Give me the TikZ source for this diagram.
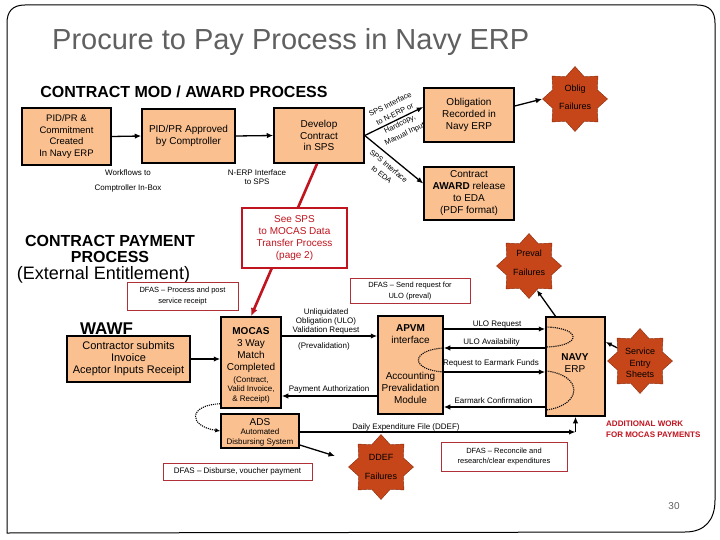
\documentclass[tikz,border=0pt]{standalone}
\usepackage{fontspec}
\setmainfont{Liberation Sans}
\usetikzlibrary{arrows.meta,shapes.geometric,calc}
\definecolor{boxfill}{HTML}{FAC090}
\definecolor{starfill}{HTML}{C6461A}
\definecolor{starline}{HTML}{8A2C0C}
\definecolor{redline}{HTML}{C0141E}
\definecolor{notered}{HTML}{B03038}
\definecolor{titlegray}{HTML}{606060}
\begin{document}
\begin{tikzpicture}[x=1pt,y=-1pt,
 sz/.style 2 args={minimum width=#1pt, minimum height=#2pt},
 box/.style={draw=black, line width=1.5pt, fill=boxfill, align=center, inner sep=0pt, font=\fontsize{10}{12}\selectfont},
 note/.style={draw=notered, line width=0.7pt, fill=white, align=center, inner sep=0pt, font=\fontsize{7.5}{10.5}\selectfont},
 starnode/.style={star, star points=8, star point ratio=1.35, minimum size=65pt, inner sep=0pt, fill=starfill, draw=starline, line width=0.4pt},
 startext/.style={align=center, inner sep=0pt, text=black},
 intext/.style={align=center, inner sep=0pt, text=black},
 arr/.style={line width=1.3pt, -{Latex[length=6.5pt,width=5.5pt]}},
 lbl/.style={align=center, inner sep=0pt, font=\fontsize{8}{9}\selectfont},
 dots/.style={line width=1.1pt, densely dotted},
]
\useasboundingbox (0,0) rectangle (720,540);
\fill[white] (0,0) rectangle (720,540);
% frame
\draw[line width=1pt] (7,533) -- (7,23) .. controls (7,12) and (12,5) .. (25,5) -- (697,5)
  .. controls (710,5) and (715,12) .. (715,23) -- (715,500)
  .. controls (715,520) and (705,532) .. (685,532) -- cycle;
% title
\node[anchor=base west, inner sep=0pt, text=titlegray, font=\fontsize{29}{34}\selectfont] (title) at (52,50) {Procure to Pay Process in Navy ERP};

% headings
\node[inner sep=0pt, font=\bfseries\fontsize{16}{18}\selectfont] (h1) at (184,92) {CONTRACT MOD / AWARD PROCESS};
\node[inner sep=0pt, align=center, font=\bfseries\fontsize{16}{16}\selectfont] (h2) at (110,249) {CONTRACT PAYMENT\\PROCESS};
\node[inner sep=0pt, font=\fontsize{18}{20}\selectfont] (h3) at (103.5,275) {(External Entitlement)};
\node[inner sep=0pt, font=\bfseries\fontsize{17}{20}\selectfont] (wawf) at (106.5,329) {WAWF};

% top row boxes
\node[box, sz={89}{57}, font=\fontsize{9.5}{11.5}\selectfont] (b1) at (66.5,136.5) {PID/PR \&\\Commitment\\Created\\In Navy ERP};
\node[box, sz={93}{54}] (b2) at (188.5,136) {PID/PR Approved\\by Comptroller};
\node[box, sz={90}{55}, font=\fontsize{10}{11.5}\selectfont] (b3) at (319,135.5) {Develop\\Contract\\in SPS};
\node[box, sz={90}{54}] (obl) at (469,115) {Obligation\\Recorded in\\Navy ERP};
\node[box, sz={90}{53}] (eda) at (469,193.5) {Contract\\\textbf{AWARD} release\\to EDA\\(PDF format)};

\draw[arr] (b1.east) -- (b2.west);
\draw[arr] (b2.east) -- (b3.west);
\draw[arr] (b3.east) -- ($(obl.west)+(0,-8)$) node[lbl, midway, sloped, xshift=4pt, font=\fontsize{7.5}{11}\selectfont] {SPS Interface\\to N-ERP or\\Hardcopy,\\Manual Input};
\draw[arr] (b3.east) -- ($(eda.west)+(0,-10)$) node[lbl, midway, sloped, below=5pt, font=\fontsize{7.5}{11}\selectfont] {SPS Interface\\to EDA};

\node[lbl] (wf1) at (128,173) {Workflows to};
\node[lbl] (wf2) at (128,188) {Comptroller In-Box};
\node[lbl] (ne) at (257,177.5) {N-ERP Interface\\to SPS};

% stars
\node[starnode] (oblig) at (575,99) {};
\node[startext, font=\fontsize{9}{18}\selectfont] (obligt) at ($(oblig)+(0,-2)$) {Oblig\\Failures};
\node[starnode] (preval) at (529,266) {};
\node[startext, font=\fontsize{9}{19}\selectfont] (prevalt) at ($(preval)+(0,-3.5)$) {Preval\\Failures};
\node[starnode] (ses) at (640,361) {};
\node[startext, font=\fontsize{9}{11.5}\selectfont] (sest) at ($(ses)+(0,2)$) {Service\\Entry\\Sheets};
\node[starnode] (ddef) at (381,467) {};
\node[startext, font=\fontsize{9}{19}\selectfont] (ddeft) at ($(ddef)+(0,-0.5)$) {DDEF\\Failures};

\draw[arr] ($(obl.east)+(0,-9)$) -- (oblig.west);

% payment boxes
\node[box, sz={123}{46}, font=\fontsize{11}{12}\selectfont] (wbox) at (128.5,359) {Contractor submits\\Invoice\\Aceptor Inputs Receipt};
\node[box, sz={60}{91}] (mocas) at (251,362.5) {};
\node[intext, font=\fontsize{10}{12}\selectfont] (mocast) at (251,350) {\textbf{MOCAS}\\3 Way\\Match\\Completed};
\node[intext, font=\fontsize{8}{9.5}\selectfont] (mocass) at (251,389.5) {(Contract,\\Valid Invoice,\\\& Receipt)};
\node[box, sz={78}{34}] (ads) at (260,431) {};
\node[intext, font=\fontsize{10}{12}\selectfont] (adst) at (260,422.5) {ADS};
\node[intext, font=\fontsize{8}{10.5}\selectfont] (adss) at (260,437.5) {Automated\\Disbursing System};
\node[box, sz={65}{98}] (apvm) at (410.5,365) {};
\node[intext, font=\fontsize{10}{12}\selectfont] (apvmt) at (410.5,334) {\textbf{APVM}\\interface};
\node[intext, font=\fontsize{10}{12}\selectfont] (apvms) at (410.5,388) {Accounting\\Prevalidation\\Module};
\node[box, sz={59}{99}] (navy) at (575.5,366.5) {};
\node[intext, font=\fontsize{10}{12}\selectfont] (navyt) at (575,363) {\textbf{NAVY}\\ERP};

% red line + see SPS box
\draw[redline, line width=2.6pt, -{Latex[length=8pt,width=7pt]}] ($(b3.south)+(-2,0)$) -- (mocas.north);
\node[draw=redline, line width=2.6pt, fill=white, sz={105}{60}, align=center, inner sep=0pt, text=redline, font=\fontsize{10}{12.3}\selectfont] (sps) at (294.5,238) {See SPS\\to MOCAS Data\\Transfer Process\\(page 2)};

% notes
\node[note, sz={111}{28}] (dfas1) at (182.5,296) {DFAS -- Process and post\\service receipt};
\node[note, sz={120}{25}] (dfas2) at (410,291) {DFAS -- Send request for\\ULO (preval)};
\node[note, sz={149}{17}, font=\fontsize{8}{10}\selectfont] (dfas3) at (237.5,471.5) {DFAS -- Disburse, voucher payment};
\node[note, sz={126}{29}] (dfas4) at (504,456.5) {DFAS -- Reconcile and\\research/clear expenditures};

% payment arrows
\draw[arr] (wbox.east) -- (mocas.west |- wbox.east);
\draw[arr] ($(mocas.east)+(0,-26.5)$) -- ($(apvm.west)+(0,-29)$);
\node[lbl] (ulo) at (326,321) {Unliquidated\\Obligation (ULO)\\Validation Request};
\node[lbl] (prev) at (324,346) {(Prevalidation)};
\draw[arr] ($(apvm.west)+(0,31)$) -- ($(mocas.east)+(0,33.5)$);
\node[lbl] (pa) at (329,389.5) {Payment Authorization};

\draw[arr] ($(apvm.east)+(0,-36)$) -- ($(navy.west)+(0,-37.5)$);
\node[lbl] (ur) at (497,324.5) {ULO Request};
\draw[arr] ($(navy.west)+(0,-18.5)$) -- ($(apvm.east)+(0,-17)$);
\node[lbl] (ua) at (491.5,342) {ULO Availability};
\draw[arr] ($(apvm.east)+(0,7)$) -- ($(navy.west)+(0,5.5)$);
\node[lbl] (re) at (491,363.5) {Request to Earmark Funds};
\draw[arr] ($(navy.west)+(0,40.5)$) -- ($(apvm.east)+(0,42)$);
\node[lbl] (ec) at (493.5,401) {Earmark Confirmation};

% dotted loops
\draw[dots] ($(apvm.east)+(0,-17)$) .. controls (410,350) and (410,370) .. ($(apvm.east)+(0,7)$);
\draw[dots] ($(navy.west)+(1,-39.5)$) .. controls (582,328) and (582,346) .. ($(navy.west)+(1,-19.5)$);
\draw[dots] ($(navy.west)+(1,4.5)$) .. controls (583,375) and (583,405) .. ($(navy.west)+(1,43.5)$);
\draw[dots, -{Latex[length=5pt,width=4.5pt]}] ($(mocas.south west)+(0,-5)$) .. controls (188,405) and (188,426) .. (ads.west);

% service entry and preval arrows
\draw[line width=1.3pt, -{Latex[length=6pt,width=5pt]}] (ses.150) -- ($(navy.east)+(0,-24.5)$);
\draw[line width=1.3pt, -{Latex[length=6pt,width=5pt]}] ($(navy.north)+(-20,0)$) -- (preval.-72);

% ADS arrows
\coordinate (adsto) at (335,456);
\draw[arr] ($(ads.east)+(0,14)$) -- (adsto);
\coordinate (corner) at (575.5,432);
\draw[arr] ($(ads.east)+(0,1)$) -- (corner);
\draw[arr] (corner) -- (navy.south);
\node[lbl] (dd) at (406,427) {Daily Expenditure File (DDEF)};

% additional work
\node[anchor=west, align=left, inner sep=0pt, text=redline, font=\bfseries\fontsize{8}{11}\selectfont] (add) at (606,429.5) {ADDITIONAL WORK\\FOR MOCAS PAYMENTS};
\node[inner sep=0pt, text=titlegray, font=\fontsize{10}{12}\selectfont] (pg) at (674,506) {30};
\end{tikzpicture}
\end{document}
